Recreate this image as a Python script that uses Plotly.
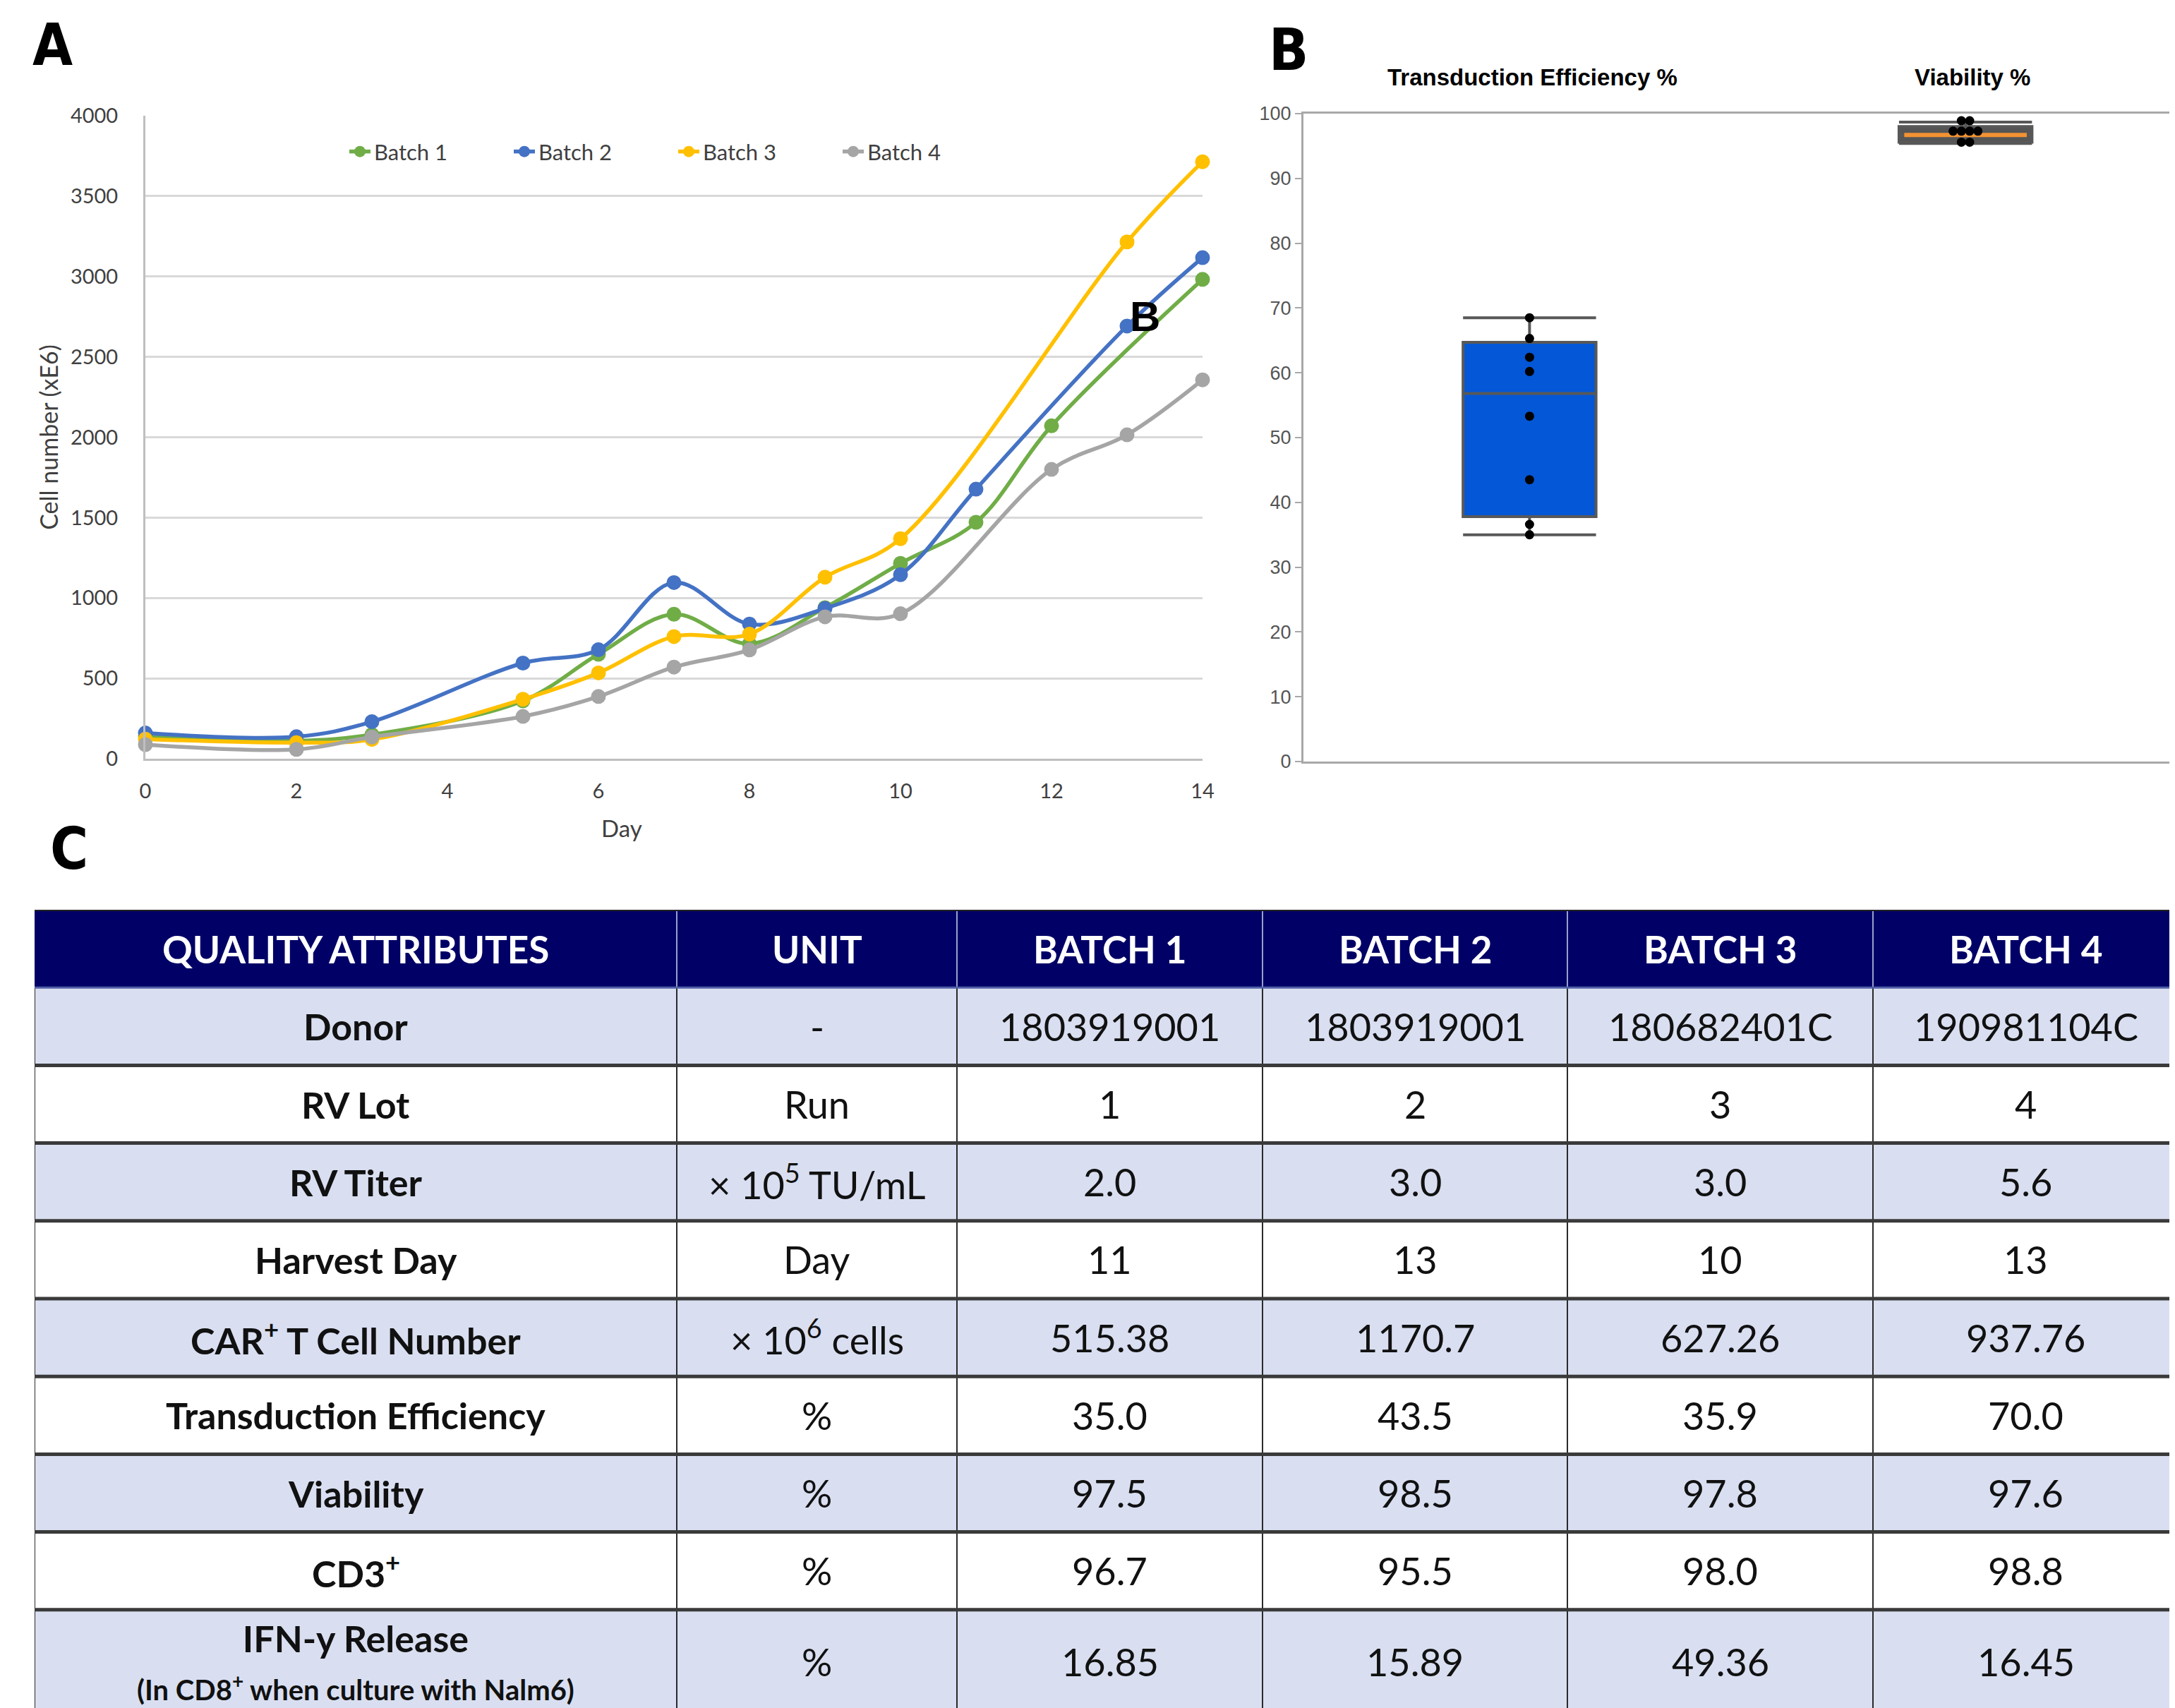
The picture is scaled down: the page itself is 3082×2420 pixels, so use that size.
import plotly.graph_objects as go

W, H = 3082, 2420
PAGE_MARGIN = 8  # the html body margin shifts the figure by this many px


def fx(px):
    return (px - PAGE_MARGIN) / W


def fy(px):
    return 1 - (px - PAGE_MARGIN) / H


# ---------------- Panel A data ----------------
days = [0, 2, 3, 5, 6, 7, 8, 9, 10, 11, 12, 13, 14]
batch_names = ["Batch 1", "Batch 2", "Batch 3", "Batch 4"]
batch1_cells = [140, 112, 150, 360, 650, 899, 715, 940, 1215, 1471, 2071, None, 2982]
batch2_cells = [160, 137, 230, 595, 678, 1096, 838, 935, 1145, 1677, None, 2692, 3117]
batch3_cells = [122, 100, 120, 370, 534, 760, 775, 1129, 1369, None, None, 3215, 3714]
batch4_cells = [88, 58, 135, 263, 387, 570, 677, 883, 902, None, 1800, 2015, 2357]
batch_colors = ["#70AD47", "#4472C4", "#FFC000", "#A5A5A5"]
day_ticks = [0, 2, 4, 6, 8, 10, 12, 14]

# ---------------- Panel B data ----------------
box_titles = ["Transduction Efficiency %", "Viability %"]
te_points = [68.5, 65.3, 62.4, 60.2, 53.3, 43.5, 36.6, 35.0]
via_points = [98.9, 98.9, 97.3, 97.3, 97.3, 97.3, 95.6, 95.6]
box_q1 = [37.8, 95.6]
box_median = [56.8, 96.7]
box_q3 = [64.7, 98.0]
box_lower = [35.0, 95.4]
box_upper = [68.5, 98.7]
box_fill = ["#0457D6", "#555555"]
median_overlay = [None, "#F39233"]

# ---------------- Panel C data ----------------
table_header = ["QUALITY ATTRIBUTES", "UNIT", "BATCH 1", "BATCH 2", "BATCH 3", "BATCH 4"]
attributes = ["Donor", "RV Lot", "RV Titer", "Harvest Day", "CAR<sup>+</sup> T Cell Number",
              "Transduction Efficiency", "Viability", "CD3<sup>+</sup>",
              "IFN-y Release<br><span style='font-size:40px'>(In CD8<sup>+</sup> when culture with Nalm6)</span>"]
units = ["-", "Run", "× 10<sup>5</sup> TU/mL", "Day", "× 10<sup>6</sup> cells", "%", "%", "%", "%"]
batch1_vals = ["1803919001", "1", "2.0", "11", "515.38", "35.0", "97.5", "96.7", "16.85"]
batch2_vals = ["1803919001", "2", "3.0", "13", "1170.7", "43.5", "98.5", "95.5", "15.89"]
batch3_vals = ["180682401C", "3", "3.0", "10", "627.26", "35.9", "97.8", "98.0", "49.36"]
batch4_vals = ["190981104C", "4", "5.6", "13", "937.76", "70.0", "97.6", "98.8", "16.45"]

# ---------------- styling constants ----------------
CAL = "Lato, 'Open Sans', sans-serif"
ARIAL = "'Liberation Sans', Arial, sans-serif"
NARROW = "'Liberation Sans Narrow', 'DejaVu Sans Condensed', 'Liberation Sans', sans-serif"
AXIS_TXT = "#404040"

fig = go.Figure()

# ---- Panel A: growth curves ----
for name, vals, col in zip(batch_names, [batch1_cells, batch2_cells, batch3_cells, batch4_cells], batch_colors):
    fig.add_trace(go.Scatter(
        x=days, y=vals, name=name, mode="lines+markers",
        line=dict(color=col, width=5.5, shape="spline", smoothing=1.0),
        marker=dict(color=col, size=21),
        connectgaps=True, cliponaxis=False,
        xaxis="x", yaxis="y"))

# ---- Panel B: box plots ----
box_w = 0.305
dot_step = 0.019


def swarm_offsets(values, step):
    groups = {}
    for v in values:
        groups.setdefault(round(v, 1), 0)
        groups[round(v, 1)] += 1
    seen = {}
    offs = []
    for v in values:
        k = round(v, 1)
        n = groups[k]
        i = seen.get(k, 0)
        seen[k] = i + 1
        offs.append((i - (n - 1) / 2) * step)
    return offs


for i, pts in enumerate([te_points, via_points]):
    fig.add_trace(go.Box(
        x=[i], q1=[box_q1[i]], median=[box_median[i]], q3=[box_q3[i]],
        lowerfence=[box_lower[i]], upperfence=[box_upper[i]],
        width=box_w, whiskerwidth=1, boxpoints=False,
        fillcolor=box_fill[i], line=dict(color="#585858", width=4),
        showlegend=False, hoverinfo="skip", xaxis="x2", yaxis="y2"))
    if median_overlay[i]:
        fig.add_trace(go.Scatter(
            x=[i - box_w / 2 + 0.012, i + box_w / 2 - 0.012], y=[box_median[i]] * 2,
            mode="lines", line=dict(color=median_overlay[i], width=6),
            showlegend=False, hoverinfo="skip", xaxis="x2", yaxis="y2"))
    offs = swarm_offsets(pts, dot_step)
    fig.add_trace(go.Scatter(
        x=[i + o for o in offs], y=pts, mode="markers",
        marker=dict(color="black", size=13),
        showlegend=False, cliponaxis=False, xaxis="x2", yaxis="y2"))

# ---- Panel C: table drawn on a hidden axis ----
col_widths = [910, 397, 433, 432, 433, 433]
row_heights = [110.2] * 9 + [175]
x_edges = [0]
for w_ in col_widths:
    x_edges.append(x_edges[-1] + w_)
y_edges = [0]
for h_ in row_heights:
    y_edges.append(y_edges[-1] + h_)

table_left_px = 49
table_top_px = 1289
t_height = H - (table_top_px - PAGE_MARGIN)
t_width = W - (table_left_px - PAGE_MARGIN)
light_fill = "#D9DFF1"
shapes = []
annotations = []

# fills
shapes.append(dict(type="rect", xref="x3", yref="y3", x0=0, x1=x_edges[-1], y0=y_edges[0], y1=y_edges[1],
                   fillcolor="#000066", line=dict(width=0), layer="below"))
for r in range(1, len(row_heights)):
    shapes.append(dict(type="rect", xref="x3", yref="y3", x0=0, x1=x_edges[-1], y0=y_edges[r], y1=y_edges[r + 1],
                       fillcolor=light_fill if r % 2 == 1 else "white", line=dict(width=0), layer="below"))
# vertical lines
for xe in x_edges[:-1]:
    shapes.append(dict(type="line", xref="x3", yref="y3", x0=xe, x1=xe, y0=y_edges[1], y1=y_edges[-1],
                       line=dict(color="#2a2a2a", width=2)))
    if xe > 0:
        shapes.append(dict(type="line", xref="x3", yref="y3", x0=xe, x1=xe, y0=y_edges[0], y1=y_edges[1],
                           line=dict(color="#9aa0c8", width=2)))
# horizontal lines
shapes.append(dict(type="line", xref="x3", yref="y3", x0=0, x1=x_edges[-1], y0=0, y1=0,
                   line=dict(color="#222222", width=4)))
shapes.append(dict(type="line", xref="x3", yref="y3", x0=0, x1=x_edges[-1], y0=y_edges[1], y1=y_edges[1],
                   line=dict(color="#5060a8", width=3)))
for ye in y_edges[2:-1]:
    shapes.append(dict(type="line", xref="x3", yref="y3", x0=0, x1=x_edges[-1], y0=ye, y1=ye,
                       line=dict(color="#3a3a3a", width=5)))

# header text
for c, txt in enumerate(table_header):
    annotations.append(dict(xref="x3", yref="y3", x=(x_edges[c] + x_edges[c + 1]) / 2,
                            y=(y_edges[0] + y_edges[1]) / 2, text="<b>" + txt + "</b>", showarrow=False,
                            xanchor="center", yanchor="middle",
                            font=dict(family=CAL, size=53, color="white")))
columns = [attributes, units, batch1_vals, batch2_vals, batch3_vals, batch4_vals]
for c, colvals in enumerate(columns):
    for r, txt in enumerate(colvals):
        yc = (y_edges[r + 1] + y_edges[r + 2]) / 2
        if r == len(colvals) - 1:
            yc -= 14
        annotations.append(dict(xref="x3", yref="y3", x=(x_edges[c] + x_edges[c + 1]) / 2, y=yc,
                                text=("<b>" + txt + "</b>") if c == 0 else txt, showarrow=False,
                                xanchor="center", yanchor="middle",
                                font=dict(family=CAL, size=52 if c == 0 else 54, color="#111111")))

# panel B titles above the boxes
title_xshift = [4, 10]
for i, t in enumerate(box_titles):
    annotations.append(dict(xref="x2", yref="paper", x=i, y=fy(110), text="<b>" + t + "</b>",
                            xshift=title_xshift[i],
                            showarrow=False, xanchor="center", yanchor="middle",
                            font=dict(family=ARIAL, size=33, color="black")))

# panel A x-axis title (placed left of centre, as in the source figure)
annotations.append(dict(xref="paper", yref="paper", x=fx(881), y=fy(1173), text="Day", showarrow=False,
                        xanchor="center", yanchor="middle", font=dict(family=CAL, size=33, color=AXIS_TXT)))

# panel letters
for letter, px, py, sz in [("A", 74, 64, 82), ("B", 1826, 70, 82), ("C", 98, 1202, 82)]:
    annotations.append(dict(xref="paper", yref="paper", x=fx(px), y=fy(py), text="<b>" + letter + "</b>",
                            showarrow=False, xanchor="center", yanchor="middle",
                            font=dict(family=NARROW, size=sz, color="black")))
# stray label inside panel A
annotations.append(dict(xref="paper", yref="paper", x=fx(1622), y=fy(448), text="<b>B</b>",
                        showarrow=False, xanchor="center", yanchor="middle",
                        font=dict(family=ARIAL, size=60, color="black")))

fig.update_layout(
    width=W, height=H,
    margin=dict(l=0, r=0, t=0, b=0, autoexpand=False),
    paper_bgcolor="white", plot_bgcolor="white",
    shapes=shapes, annotations=annotations,
    legend=dict(orientation="h", x=fx(490), y=fy(215), xanchor="left", yanchor="middle",
                font=dict(family=CAL, size=31, color=AXIS_TXT), entrywidth=188, entrywidthmode="pixels",
                bgcolor="rgba(0,0,0,0)"),
    xaxis=dict(domain=[fx(206), fx(1704)], range=[0, 14], tickvals=day_ticks, showgrid=False,
               showline=True, linecolor="#BFBFBF", linewidth=3, zeroline=False, ticks="", automargin=False,
               tickfont=dict(family=CAL, size=29, color=AXIS_TXT), ticklabelstandoff=18,
               anchor="y"),
    yaxis=dict(domain=[fy(1075), fy(164)], range=[0, 4000], dtick=500, showgrid=True,
               gridcolor="#D9D9D9", gridwidth=3, showline=True, linecolor="#BFBFBF", linewidth=3,
               zeroline=False, ticks="", automargin=False, tickfont=dict(family=CAL, size=29, color=AXIS_TXT),
               ticklabelstandoff=30,
               title=dict(text="Cell number (xE6)", font=dict(family=CAL, size=34, color=AXIS_TXT), standoff=8),
               anchor="x"),
    xaxis2=dict(domain=[fx(1847), 1], range=[-0.5186, 1.4805 + PAGE_MARGIN / 617], showticklabels=False,
                showgrid=False, zeroline=False, showline=True, mirror=True, linecolor="#A8A8A8", linewidth=3,
                ticks="", automargin=False, anchor="y2"),
    yaxis2=dict(domain=[fy(1079), fy(161)], range=[0, 100], dtick=10, showgrid=False, zeroline=False,
                showline=True, linecolor="#A8A8A8", linewidth=3, ticks="outside", ticklen=9, tickwidth=2,
                automargin=False,
                tickcolor="#A8A8A8", tickfont=dict(family=ARIAL, size=27, color="#555555"), anchor="x2"),
    xaxis3=dict(domain=[fx(table_left_px), 1], range=[0, t_width], visible=False, fixedrange=True,
                automargin=False, anchor="y3"),
    yaxis3=dict(domain=[0, t_height / H], range=[t_height, 0], visible=False, fixedrange=True, automargin=False,
                anchor="x3"),
    showlegend=True,
)

fig.write_html("out.html")
